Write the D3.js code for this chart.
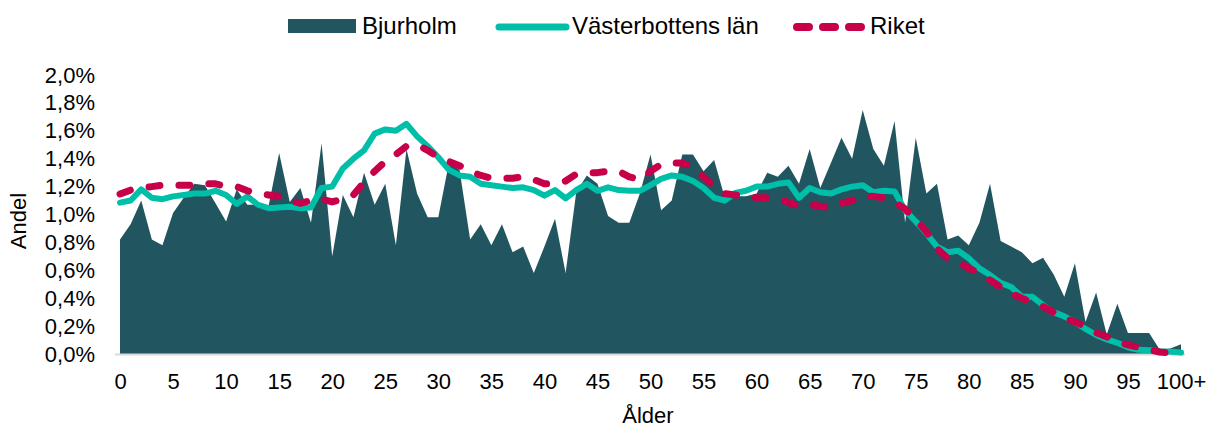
<!DOCTYPE html>
<html>
<head>
<meta charset="utf-8">
<script src="https://cdn.jsdelivr.net/npm/d3@7"></script>
<style>
  html, body { margin: 0; padding: 0; background: #fff; }
  svg { display: block; font-family: "Liberation Sans", Arial, sans-serif; }
</style>
</head>
<body>
<svg id="chart"></svg>
<script>
'use strict';

const WIDTH = 1211;
const HEIGHT = 428;

// ages 0..100 (100 = "100+"), values in percent
const ages = d3.range(0, 101);

const bjurholm = [
  0.82, 0.93, 1.10, 0.82, 0.78, 1.01, 1.12, 1.22, 1.21, 1.08,
  0.95, 1.18, 1.07, 1.07, 1.06, 1.44, 1.09, 1.19, 0.94, 1.51,
  0.70, 1.14, 0.98, 1.30, 1.07, 1.22, 0.78, 1.47, 1.15, 0.98,
  0.98, 1.37, 1.32, 0.82, 0.93, 0.78, 0.93, 0.73, 0.77, 0.58,
  0.77, 0.97, 0.58, 1.16, 1.28, 1.22, 0.99, 0.94, 0.94, 1.15,
  1.43, 1.03, 1.10, 1.43, 1.43, 1.31, 1.39, 1.12, 1.13, 1.13,
  1.15, 1.30, 1.27, 1.35, 1.22, 1.47, 1.19, 1.37, 1.55, 1.40,
  1.75, 1.47, 1.35, 1.67, 0.94, 1.55, 1.15, 1.22, 0.82, 0.85,
  0.78, 0.94, 1.22, 0.81, 0.77, 0.73, 0.65, 0.69, 0.57, 0.41,
  0.65, 0.23, 0.44, 0.14, 0.36, 0.15, 0.15, 0.15, 0.03, 0.04,
  0.07
];

const vasterbotten = [
  1.085, 1.10, 1.18, 1.12, 1.11, 1.13, 1.14, 1.15, 1.15, 1.17,
  1.14, 1.075, 1.13, 1.07, 1.045, 1.05, 1.055, 1.045, 1.05, 1.19,
  1.20, 1.33, 1.40, 1.46, 1.58, 1.61, 1.60, 1.65, 1.56, 1.49,
  1.41, 1.32, 1.28, 1.27, 1.22, 1.21, 1.20, 1.19, 1.195, 1.175,
  1.135, 1.175, 1.115, 1.175, 1.22, 1.17, 1.195, 1.175, 1.17, 1.17,
  1.21, 1.255, 1.28, 1.27, 1.24, 1.19, 1.12, 1.10, 1.155, 1.17,
  1.20, 1.20, 1.22, 1.23, 1.12, 1.19, 1.16, 1.15, 1.18, 1.20,
  1.21, 1.16, 1.17, 1.165, 1.03, 0.95, 0.865, 0.77, 0.73, 0.74,
  0.686, 0.614, 0.566, 0.51, 0.48, 0.41, 0.41, 0.35, 0.30, 0.27,
  0.23, 0.18, 0.136, 0.105, 0.08, 0.048, 0.03, 0.027, 0.02, 0.017,
  0.01
];

const riket = [
  1.147, 1.175, 1.19, 1.20, 1.21, 1.21, 1.21, 1.21, 1.22, 1.22,
  1.20, 1.20, 1.17, 1.15, 1.14, 1.13, 1.10, 1.08, 1.10, 1.11,
  1.09, 1.11, 1.14, 1.23, 1.31, 1.38, 1.43, 1.49, 1.50, 1.46,
  1.41, 1.38, 1.35, 1.31, 1.28, 1.26, 1.26, 1.26, 1.27, 1.25,
  1.22, 1.22, 1.24, 1.29, 1.30, 1.30, 1.31, 1.31, 1.27, 1.25,
  1.31, 1.36, 1.37, 1.37, 1.34, 1.27, 1.20, 1.15, 1.14, 1.13,
  1.12, 1.12, 1.12, 1.085, 1.06, 1.07, 1.06, 1.045, 1.08, 1.10,
  1.13, 1.13, 1.12, 1.09, 1.04, 0.96, 0.877, 0.757, 0.686, 0.66,
  0.614, 0.578, 0.53, 0.48, 0.435, 0.40, 0.37, 0.34, 0.30, 0.26,
  0.23, 0.196, 0.153, 0.124, 0.088, 0.065, 0.048, 0.03, 0.014, 0.008,
  0.005
];

const yTicks = [0, 0.2, 0.4, 0.6, 0.8, 1.0, 1.2, 1.4, 1.6, 1.8, 2.0];
const xTicks = d3.range(0, 101, 5);

const COLORS = {
  bjurholm: '#215660',
  vasterbotten: '#00BFA8',
  riket: '#C8004A',
  baseline: '#D9D9D9',
  text: '#000000',
};

const x = d3.scaleLinear().domain([0, 100]).range([120, 1181]);
const y = d3.scaleLinear().domain([0, 2.0]).range([354, 75]);

const fmtPct = v => d3.format('.1f')(v).replace('.', ',') + '%';

const svg = d3.select('#chart')
  .attr('width', WIDTH)
  .attr('height', HEIGHT)
  .attr('viewBox', `0 0 ${WIDTH} ${HEIGHT}`);

// area - Bjurholm
const area = d3.area()
  .x((d, i) => x(ages[i]))
  .y0(y(0))
  .y1(d => y(d));

svg.append('path')
  .datum(bjurholm)
  .attr('d', area)
  .attr('fill', COLORS.bjurholm);

// baseline
svg.append('line')
  .attr('x1', 115).attr('x2', 1185)
  .attr('y1', y(0) + 0.5).attr('y2', y(0) + 0.5)
  .attr('stroke', COLORS.baseline).attr('stroke-width', 2);

const line = d3.line().x((d, i) => x(ages[i])).y(d => y(d));

svg.append('path')
  .datum(vasterbotten)
  .attr('d', line)
  .attr('fill', 'none')
  .attr('stroke', COLORS.vasterbotten)
  .attr('stroke-width', 6)
  .attr('stroke-linejoin', 'round')
  .attr('stroke-linecap', 'round');

svg.append('path')
  .datum(riket)
  .attr('d', line)
  .attr('fill', 'none')
  .attr('stroke', COLORS.riket)
  .attr('stroke-width', 7)
  .attr('stroke-linejoin', 'round')
  .attr('stroke-linecap', 'round')
  .attr('stroke-dasharray', '11,19');

// y axis labels
const yAxis = svg.append('g')
  .attr('transform', 'translate(95,0)')
  .call(d3.axisLeft(y).tickValues(yTicks).tickFormat(fmtPct).tickSize(0).tickPadding(0));
yAxis.select('.domain').remove();
yAxis.selectAll('text')
  .attr('font-size', 22)
  .attr('font-family', '"Liberation Sans", Arial, sans-serif')
  .attr('fill', COLORS.text);

// x axis labels
const xAxis = svg.append('g')
  .attr('transform', `translate(0,${y(0)})`)
  .call(d3.axisBottom(x).tickValues(xTicks)
    .tickFormat(d => d === 100 ? '100+' : String(d))
    .tickSize(0).tickPadding(19));
xAxis.select('.domain').remove();
xAxis.selectAll('text')
  .attr('font-size', 22)
  .attr('font-family', '"Liberation Sans", Arial, sans-serif')
  .attr('fill', COLORS.text);

// axis titles
svg.append('text')
  .attr('x', 648).attr('y', 423)
  .attr('text-anchor', 'middle')
  .attr('font-size', 22)
  .attr('fill', COLORS.text)
  .text('Ålder');

svg.append('text')
  .attr('transform', 'translate(26,221) rotate(-90)')
  .attr('text-anchor', 'middle')
  .attr('font-size', 22)
  .attr('fill', COLORS.text)
  .text('Andel');

// legend
const legend = svg.append('g').attr('class', 'legend');
legend.append('rect')
  .attr('x', 288).attr('y', 19).attr('width', 68).attr('height', 14)
  .attr('fill', COLORS.bjurholm);
legend.append('text')
  .attr('x', 362).attr('y', 34).attr('font-size', 24).text('Bjurholm');

legend.append('line')
  .attr('x1', 499).attr('x2', 566).attr('y1', 27).attr('y2', 27)
  .attr('stroke', COLORS.vasterbotten).attr('stroke-width', 7)
  .attr('stroke-linecap', 'round');
legend.append('text')
  .attr('x', 572).attr('y', 34).attr('font-size', 24).text('Västerbottens län');

legend.append('line')
  .attr('x1', 797).attr('x2', 866).attr('y1', 27).attr('y2', 27)
  .attr('stroke', COLORS.riket).attr('stroke-width', 8)
  .attr('stroke-linecap', 'round')
  .attr('stroke-dasharray', '12,14');
legend.append('text')
  .attr('x', 870).attr('y', 34).attr('font-size', 24).text('Riket');
</script>
</body>
</html>
